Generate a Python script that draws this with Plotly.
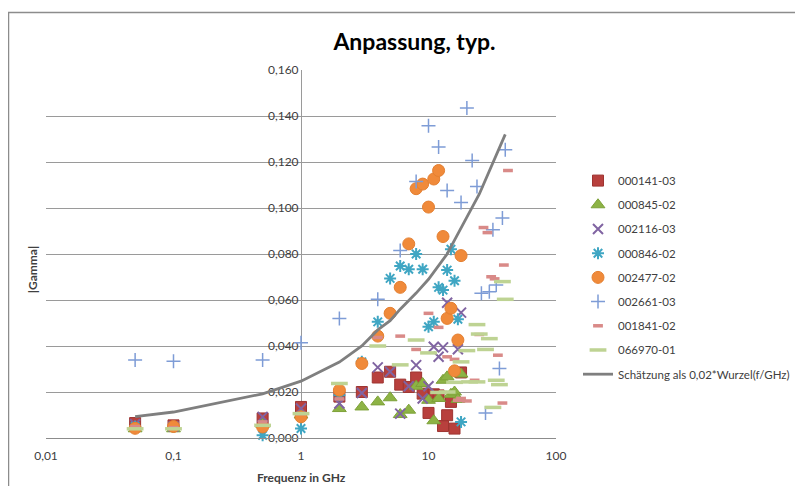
import plotly.graph_objects as go

# ---------------- data ----------------
series_names = ["000141-03", "000845-02", "002116-03", "000846-02",
                "002477-02", "002661-03", "001841-02", "066970-01"]

f_000141 = [0.05, 0.1, 0.5, 1, 2, 3, 4, 5, 6, 7, 8, 9, 10, 11, 12, 13, 14, 15, 16, 18]
g_000141 = [0.0065, 0.0055, 0.0085, 0.0135, 0.018, 0.020, 0.0263, 0.0288, 0.0232, 0.0222,
            0.0263, 0.0193, 0.0109, 0.019, 0.0185, 0.0052, 0.0099, 0.0157, 0.0041, 0.0285]

f_000845 = [0.05, 0.1, 0.5, 1, 2, 3, 4, 5, 6, 7, 8, 9, 10, 11, 12, 13, 14, 15, 16, 17, 18]
g_000845 = [0.004, 0.004, 0.006, 0.010, 0.0128, 0.0135, 0.0157, 0.0175, 0.0102, 0.0121,
            0.0225, 0.0237, 0.0164, 0.0075, 0.0172, 0.0251, 0.0266, 0.019, 0.020, 0.0168, 0.0278]

f_002116 = [0.05, 0.1, 0.5, 1, 2, 3, 4, 5, 6, 7, 8, 9, 10, 11, 12, 13, 14, 17, 18]
g_002116 = [0.006, 0.005, 0.0092, 0.0128, 0.015, 0.0196, 0.0307, 0.0288, 0.0106, 0.0225,
            0.0317, 0.0172, 0.0225, 0.0397, 0.0353, 0.0394, 0.0588, 0.0386, 0.0545]

f_000846 = [0.05, 0.1, 0.5, 1, 2, 3, 4, 5, 6, 7, 8, 9, 10, 11, 12, 13, 14, 15, 16, 17, 18]
g_000846 = [0.005, 0.005, 0.0012, 0.0041, 0.0186, 0.0331, 0.0505, 0.0694, 0.0748, 0.0734,
            0.0800, 0.0734, 0.0484, 0.0505, 0.0655, 0.0643, 0.073, 0.0821, 0.0684, 0.0516, 0.007]

f_002477 = [0.05, 0.1, 0.5, 1, 2, 3, 4, 5, 6, 7, 8, 9, 10, 11, 12, 13, 14, 15, 16, 17, 18]
g_002477 = [0.0042, 0.005, 0.0048, 0.0092, 0.0208, 0.0324, 0.0443, 0.0542, 0.0655, 0.0844,
            0.1084, 0.1104, 0.1004, 0.1126, 0.1163, 0.0876, 0.052, 0.0564, 0.0292, 0.0426, 0.0793]

f_002661 = [0.05, 0.1, 0.5, 1, 2, 4, 6, 8, 10, 12, 14, 18, 20, 22, 24, 26, 28, 30, 32, 34, 36, 38, 40]
g_002661 = [0.0339, 0.0334, 0.0339, 0.0414, 0.052, 0.0603, 0.0815, 0.1115, 0.1358, 0.1265,
            0.1076, 0.1024, 0.1435, 0.1206, 0.1094, 0.0629, 0.0109, 0.0636, 0.0905, 0.0665,
            0.0302, 0.0956, 0.1253]

f_001841 = [0.05, 0.1, 0.5, 1, 2, 4, 6, 8, 10, 12, 14, 16, 17, 18, 20, 23, 25, 27, 29,
            31, 33, 35, 38, 39, 42]
g_001841 = [0.005, 0.0045, 0.007, 0.0106, 0.017, 0.0437, 0.0443, 0.0385, 0.0542, 0.0481,
            0.0353, 0.0342, 0.0164, 0.0172, 0.0161, 0.0251, 0.045, 0.0915, 0.0893,
            0.0701, 0.0692, 0.036, 0.0152, 0.0752, 0.1163]

f_066970 = [0.05, 0.1, 0.5, 1, 2, 4, 6, 8, 10, 12, 14, 16, 18, 20, 21, 24, 24, 25, 28,
            30, 32, 34, 36, 38, 40]
g_066970 = [0.004, 0.004, 0.0055, 0.0106, 0.0237, 0.0400, 0.0318, 0.0426, 0.037, 0.0198,
            0.0200, 0.0242, 0.0331, 0.0380, 0.0244, 0.0244, 0.0493, 0.0452, 0.0385,
            0.0432, 0.0133, 0.0251, 0.0232, 0.068, 0.0603]

curve_name = "Schätzung als 0,02*Wurzel(f/GHz)"
f_curve = [0.05, 0.1, 0.5, 1, 2, 3, 4, 5, 6, 8, 10, 12, 14, 16, 18, 20, 25, 30, 35, 40]
g_curve = [0.0093, 0.0113, 0.0192, 0.0247, 0.0330, 0.0400, 0.0470, 0.0510, 0.0560, 0.0630,
           0.0690, 0.0750, 0.0800, 0.0860, 0.0910, 0.0960, 0.1060, 0.1160, 0.1240, 0.1320]

x_tick_vals = [0.01, 0.1, 1, 10, 100]
x_tick_labels = ["0,01", "0,1", "1", "10", "100"]

chart_title = "Anpassung, typ."
x_title = "Frequenz in GHz"
y_title = "|Gamma|"

# ---------------- styles ----------------
styles = [
    dict(symbol="square", size=11, color="#B8403D", line=dict(color="#9E3431", width=1)),
    dict(symbol="triangle-up", size=12, color="#8DB345", line=dict(color="#7DA138", width=1)),
    dict(symbol="x-thin-open", size=10, color="#8064A2", line=dict(color="#8064A2", width=2)),
    dict(symbol="asterisk-open", size=10, color="#3FA6C3", line=dict(color="#3FA6C3", width=2)),
    dict(symbol="circle", size=12, color="#F08A3A", line=dict(color="#E47F30", width=1)),
    dict(symbol="cross-thin-open", size=10, color="#7E9CD6", line=dict(color="#7E9CD6", width=1.5)),
    dict(symbol="line-ew-open", size=7, color="#D98A88", line=dict(color="#D98A88", width=3.5)),
    dict(symbol="line-ew-open", size=12, color="#BED393", line=dict(color="#BED393", width=3.5)),
]

data_x = [f_000141, f_000845, f_002116, f_000846, f_002477, f_002661, f_001841, f_066970]
data_y = [g_000141, g_000845, g_002116, g_000846, g_002477, g_002661, g_001841, g_066970]

FONT = "Lato, 'Open Sans', sans-serif"

fig = go.Figure()
for i, (name, xs, ys, st) in enumerate(zip(series_names, data_x, data_y, styles)):
    fig.add_trace(go.Scatter(
        x=xs, y=ys, mode="markers", name=name, legendgroup=f"g{i}",
        marker=st, cliponaxis=False,
    ))

fig.add_trace(go.Scatter(
    x=f_curve, y=g_curve, mode="lines", name=curve_name, legendgroup="g9",
    line=dict(color="#7F7F7F", width=2.8),
))

# The page body has an 8px margin: express positions in screen pixels.
OFF = 8
FIG_W, FIG_H = 803 - OFF, 494 - 2 * OFF
L, R, T, B = 46 - OFF, 556 - OFF, 70 - OFF, 437.7 - OFF
W, H = R - L, B - T


def px(xs):  # screen x pixel -> paper coordinate
    return (xs - OFF - L) / W


def py(ys):  # screen y pixel -> paper coordinate
    return (B - (ys - OFF)) / H


fig.update_layout(
    width=FIG_W, height=FIG_H, autosize=False,
    margin=dict(l=L, r=FIG_W - R, t=T, b=FIG_H - B, pad=0, autoexpand=False),
    paper_bgcolor="white", plot_bgcolor="white",
    separators=",.",
    font=dict(family=FONT, size=12, color="#404040"),
    title=dict(text=chart_title, x=(414.5 - OFF) / FIG_W, xref="container", xanchor="center",
               y=1 - (42 - OFF) / FIG_H, yref="container", yanchor="middle",
               font=dict(family=FONT, size=23, color="#000000", weight="bold")),
    showlegend=True,
    legend=dict(x=px(578), xanchor="left", y=py(166), yanchor="top",
                traceorder="grouped", tracegroupgap=5.2,
                font=dict(family=FONT, size=11.5, color="#404040"),
                bgcolor="rgba(0,0,0,0)", borderwidth=0),
    xaxis=dict(type="log", range=[-2, 2], tickvals=x_tick_vals, ticktext=x_tick_labels,
               showgrid=False, zeroline=False, showline=True, linecolor="#8C8C8C",
               linewidth=1, ticks="", ticklabelstandoff=7,
               tickfont=dict(family=FONT, size=12, color="#404040")),
    yaxis=dict(range=[0, 0.16], tick0=0, dtick=0.02, tickformat=".3f",
               showgrid=True, gridcolor="#9A9A9A", gridwidth=1, zeroline=False,
               anchor="free", position=0.5, showline=True, linecolor="#9A9A9A",
               linewidth=1, ticks="", layer="below traces",
               tickfont=dict(family=FONT, size=12, color="#404040")),
    annotations=[
        dict(text=x_title, xref="paper", yref="paper", x=px(301), y=py(477),
             xanchor="center", yanchor="middle", showarrow=False,
             font=dict(family=FONT, size=12, color="#404040", weight="bold")),
        dict(text=y_title, xref="paper", yref="paper", x=px(32), y=py(270),
             xanchor="center", yanchor="middle", showarrow=False, textangle=-90,
             font=dict(family=FONT, size=12, color="#404040", weight="bold")),
    ],
    shapes=[
        dict(type="rect", xref="paper", yref="paper", x0=px(8.5), x1=px(830),
             y0=py(520), y1=py(12.5), line=dict(color="#8C8C8C", width=1.5),
             fillcolor="rgba(0,0,0,0)", layer="below"),
    ],
)

fig.write_html("out.html", config={"responsive": False})
